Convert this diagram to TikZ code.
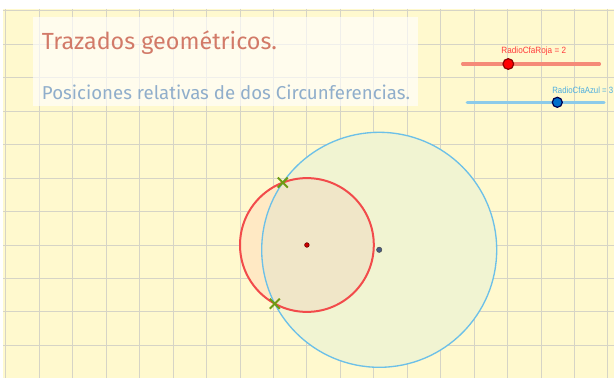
\documentclass[tikz,border=0pt]{standalone}
\usepackage{fontspec}
\setmainfont{Liberation Sans}
\newfontfamily\hand{Fira Sans}
\usetikzlibrary{intersections}
\definecolor{bgyellow}{HTML}{FFF9CE}
\definecolor{gridc}{HTML}{D6D4C6}
\definecolor{titlered}{HTML}{D27A68}
\definecolor{subblue}{HTML}{90AECB}
\definecolor{cred}{HTML}{F24B4B}
\definecolor{cblue}{HTML}{6CC0E8}
\definecolor{bluefill}{HTML}{F1F4D2}
\definecolor{redfill}{HTML}{FFE9C4}
\definecolor{overfill}{HTML}{F0E6C8}
\definecolor{xgreen}{HTML}{6E9A14}
\definecolor{sliderred}{HTML}{F58A78}
\definecolor{sliderblue}{HTML}{8CCBEA}
\definecolor{labred}{HTML}{FF3A3A}
\definecolor{labblue}{HTML}{4DAEE0}
\tikzset{
  gridline/.style={draw=gridc, line width=0.75pt},
  xmark/.style={draw=xgreen, line width=1.5pt},
  sliderlab/.style={font=\fontsize{6.8}{7}\selectfont, inner sep=0pt},
}
\begin{document}
\begin{tikzpicture}[x=0.75pt,y=-0.75pt]
\useasboundingbox (0,0) rectangle (614,378);
\fill[white] (0,0) rectangle (614,378);
\fill[bgyellow] (3,9) rectangle (614,378);
\begin{scope}
\clip (3,9) rectangle (614,378);
\foreach \k in {-7,...,11} {\draw[gridline] ({240+33.45*\k},9) -- ({240+33.45*\k},378);}
\foreach \k in {-7,...,4} {\draw[gridline] (3,{245+33.45*\k}) -- (614,{245+33.45*\k});}
\end{scope}
% title box
\fill[white, opacity=0.65] (32.7,17.3) rectangle (418.3,106);
\node[anchor=base west, inner sep=0pt, text=titlered, font=\hand\fontsize{17.5}{20}\selectfont] (title) at (41.7,49.3) {Trazados geométricos.};
\node[anchor=base west, inner sep=0pt, text=subblue, font=\hand\fontsize{14}{16}\selectfont] (sub) at (41.7,99.3) {Posiciones relativas de dos Circunferencias.};
% sliders
\coordinate (r1) at (462.7,64); \coordinate (r2) at (599.3,64);
\draw[sliderred, line width=2.6pt, line cap=round] (r1) -- (r2);
\node[circle, fill=red, draw=red!55!black, line width=0.9pt, minimum size=8pt, inner sep=0pt] (rp) at (508.3,64) {};
\node[sliderlab, text=labred] (rl) at (533.8,50.7) {\scalebox{0.9}[1]{RadioCfaRoja = 2}};
\coordinate (b1) at (467.3,102.3); \coordinate (b2) at (604,102.3);
\draw[sliderblue, line width=2.6pt, line cap=round] (b1) -- (b2);
\node[circle, fill=blue!45!cyan!80!black, draw=black!70!blue, line width=0.9pt, minimum size=7.5pt, inner sep=0pt] (bp) at (557.3,102.3) {};
\node[sliderlab, text=labblue, anchor=east] (bl) at (613.5,90) {\scalebox{0.86}[1]{RadioCfaAzul = 3}};
% circles
\coordinate (rc) at (306.9,245);
\coordinate (bc) at (379.2,249.8);
\fill[bluefill] (bc) circle [radius=117.5];
\fill[redfill] (rc) circle [radius=66.9];
\begin{scope}
\clip (bc) circle [radius=117.5];
\fill[overfill] (rc) circle [radius=66.9];
\end{scope}
\draw[cblue, line width=1pt, name path=bcirc] (bc) circle [radius=117.5];
\draw[cred, line width=1.5pt, name path=rcirc] (rc) circle [radius=66.9];
\path[name intersections={of=bcirc and rcirc, by={i1,i2}}];
\foreach \p in {i1,i2} {
  \draw[xmark] ([shift={(-5,-5)}]\p) -- ([shift={(5,5)}]\p);
  \draw[xmark] ([shift={(-5,5)}]\p) -- ([shift={(5,-5)}]\p);
}
\node[circle, fill=red!80!black, draw=red!40!black, line width=0.4pt, minimum size=3.5pt, inner sep=0pt] (rdot) at (rc) {};
\node[circle, fill=cyan!40!blue!60!black, draw=black!70, line width=0.4pt, minimum size=4pt, inner sep=0pt] (bdot) at (bc) {};
\end{tikzpicture}
\end{document}
